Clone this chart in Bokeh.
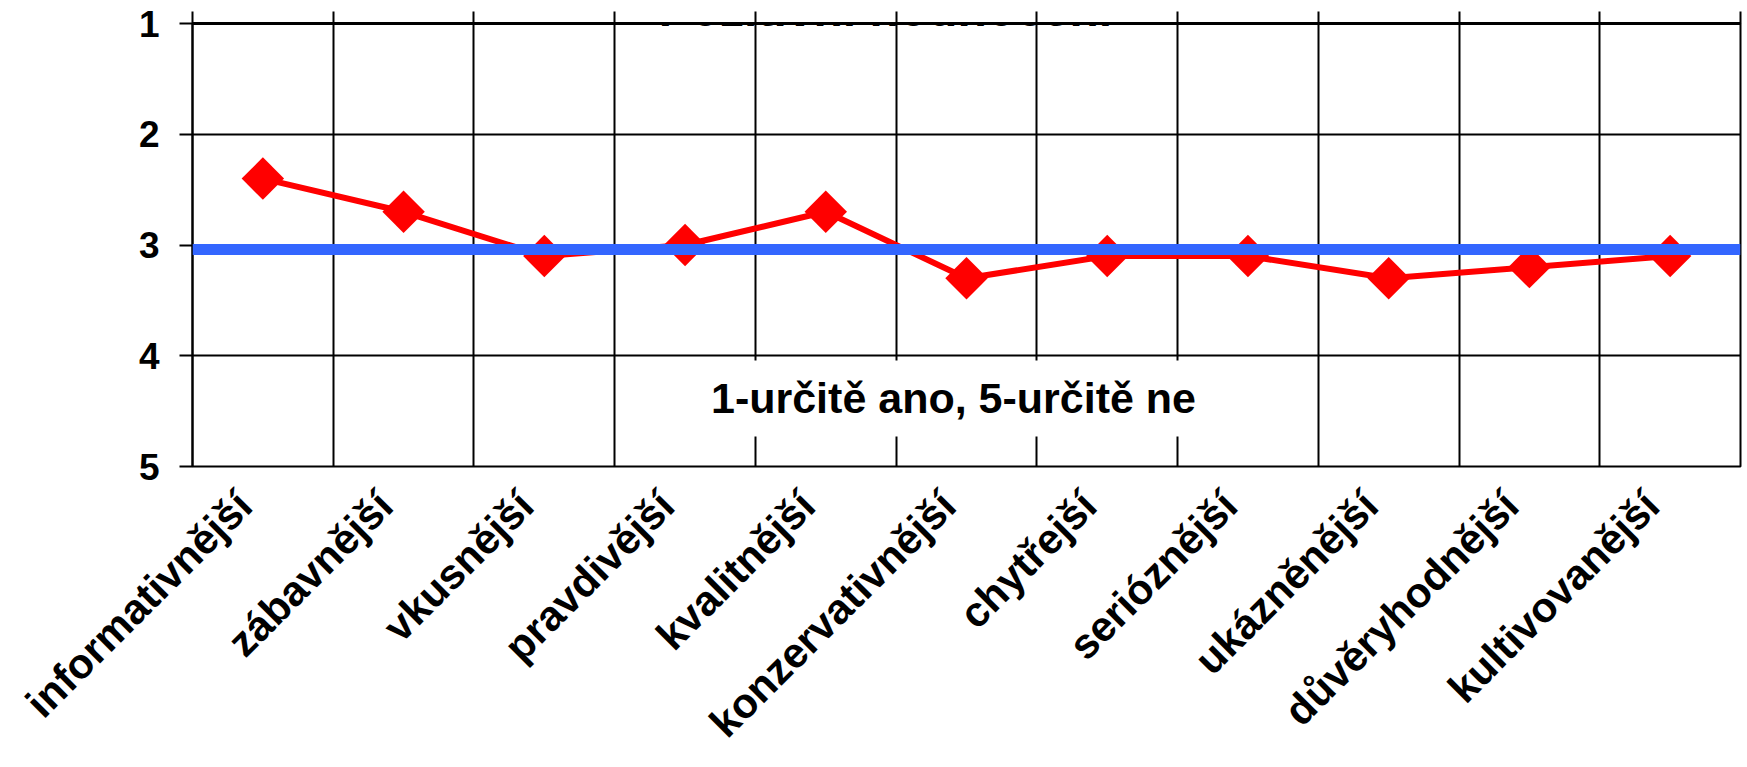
import numpy as np
from bokeh.plotting import figure
from bokeh.models import Range1d, FixedTicker, Span, Label, LinearAxis
from bokeh.embed import file_html
from bokeh.resources import INLINE

# ---- data ----
categories = ["informativnější", "zábavnější", "vkusnější", "pravdivější", "kvalitnější",
              "konzervativnější", "chytřejší", "serióznější", "ukázněnější",
              "důvěryhodnější", "kultivovanější"]
scores = [2.4, 2.7, 3.1, 3.0, 2.7, 3.3, 3.1, 3.1, 3.3, 3.2, 3.1]
reference_value = 3.04
y_ticks = [1, 2, 3, 4, 5]
title_text = "Pozitivní hodnocení"
note_text = "1-určitě ano, 5-určitě ne"

FONT = "Liberation Sans"
n = len(categories)
xs = np.arange(n) + 0.5
boundaries = list(range(n + 1))
LABEL_DX = -0.13   # rotated labels sit slightly left of the category centre

p = figure(width=1747, height=767, output_backend="svg", toolbar_location=None,
           x_range=Range1d(0, n), y_range=Range1d(5, 1),
           x_axis_location="above",
           min_border_left=192, min_border_right=7, min_border_top=23, min_border_bottom=301)
p.background_fill_color = "white"
p.border_fill_color = "white"
p.outline_line_color = "black"
p.outline_line_width = 2

# title (cut off at the top, as in the original)
p.add_layout(Label(x=4.924, y=0.874, text=title_text, level="underlay",
                   text_align="center", text_baseline="alphabetic",
                   text_font=FONT, text_font_style="bold",
                   text_font_size="48px", text_color="black"))

# top category axis: tick marks only
xa = p.xaxis[0]
xa.ticker = FixedTicker(ticks=boundaries)
xa.major_tick_out = 12
xa.major_tick_in = 0
xa.major_tick_line_color = "black"
xa.major_tick_line_width = 2
xa.minor_tick_line_color = None
xa.axis_line_color = "black"
xa.axis_line_width = 3
xa.major_label_text_color = None

# bottom axis carrying the rotated category names
label_pos = [float(v + LABEL_DX) for v in xs]
cat_axis = LinearAxis(ticker=FixedTicker(ticks=label_pos),
                      major_label_overrides={v: c for v, c in zip(label_pos, categories)})
cat_axis.axis_line_color = None
cat_axis.major_tick_line_color = None
cat_axis.minor_tick_line_color = None
cat_axis.major_tick_out = 0
cat_axis.major_tick_in = 0
cat_axis.major_label_orientation = np.pi / 4
cat_axis.major_label_standoff = 32
cat_axis.major_label_text_font = FONT
cat_axis.major_label_text_font_style = "bold"
cat_axis.major_label_text_font_size = "42px"
cat_axis.major_label_text_color = "black"
p.add_layout(cat_axis, "below")

# left value axis
ya = p.yaxis[0]
ya.ticker = FixedTicker(ticks=y_ticks)
ya.major_tick_out = 13
ya.major_tick_in = 0
ya.major_tick_line_color = "black"
ya.major_tick_line_width = 2
ya.minor_tick_line_color = None
ya.axis_line_color = "black"
ya.axis_line_width = 2
ya.major_label_text_font = FONT
ya.major_label_text_font_style = "bold"
ya.major_label_text_font_size = "37px"
ya.major_label_text_color = "black"
ya.major_label_standoff = 20

p.xgrid.ticker = FixedTicker(ticks=boundaries)
p.xgrid.grid_line_color = "black"
p.xgrid.grid_line_width = 2
p.ygrid.ticker = FixedTicker(ticks=y_ticks)
p.ygrid.grid_line_color = "black"
p.ygrid.grid_line_width = 2

# series
p.line(xs, scores, line_color="#FF0000", line_width=6)
p.scatter(xs, scores, marker="square", size=30, angle=np.pi / 4,
          fill_color="#FF0000", line_color="#FF0000", line_width=0)

# reference line (drawn on top)
p.add_layout(Span(location=reference_value, dimension="width",
                  line_color="#3366FF", line_width=11))

# note
p.add_layout(Label(x=n / 2, y=4.386, x_offset=-13, text=note_text,
                   text_align="center", text_baseline="middle",
                   text_font=FONT, text_font_style="bold",
                   text_font_size="43px", text_color="black",
                   background_fill_color="white", padding=14))

open("out.html", "w").write(file_html(p, INLINE))
